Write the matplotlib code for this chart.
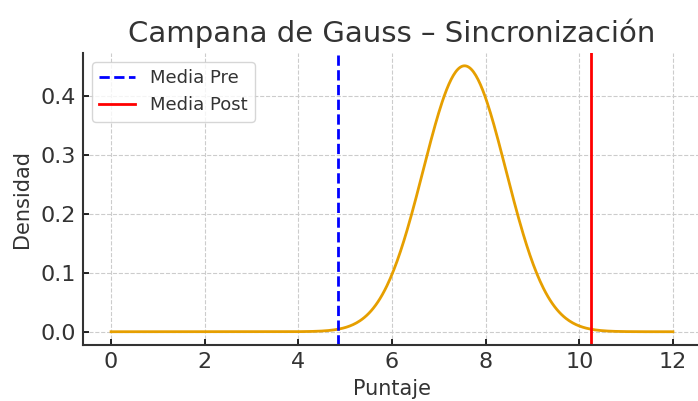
import numpy as np
import matplotlib
matplotlib.use("Agg")
import matplotlib.pyplot as plt

# values
curve_mean = 7.55
curve_sd = 0.885
x_range = [0, 12]
media_pre = 4.84
media_post = 10.26

x = np.linspace(x_range[0], x_range[1], 500)
y = np.exp(-0.5 * ((x - curve_mean) / curve_sd) ** 2) / (curve_sd * np.sqrt(2 * np.pi))

fig = plt.figure(figsize=(6.98, 4.01), dpi=100)
ax = fig.add_axes([83 / 698, 56 / 401, 618 / 698, 292 / 401])

ax.plot(x, y, color="#E69F00", linewidth=2)
ax.axvline(media_pre, color="blue", linestyle="--", linewidth=2, label="Media Pre")
ax.axvline(media_post, color="red", linestyle="-", linewidth=2, label="Media Post")

ax.set_xlim(-0.6, 12.6)
ax.set_ylim(-0.0225, 0.4725)
ax.set_xticks([0, 2, 4, 6, 8, 10, 12])
ax.set_yticks([0.0, 0.1, 0.2, 0.3, 0.4])

ax.set_title("Campana de Gauss – Sincronización", fontsize=21, color="#333333", pad=8)
ax.set_xlabel("Puntaje", fontsize=15, color="#333333", labelpad=5)
ax.set_ylabel("Densidad", fontsize=15, color="#333333", labelpad=6)
ax.tick_params(direction="in", labelsize=16, labelcolor="#333333", length=4, width=1.2, pad=5)

ax.grid(True, linestyle="--", color="#cccccc", linewidth=0.8)
ax.set_axisbelow(True)
for s in ["top", "right"]:
    ax.spines[s].set_visible(False)
for s in ["left", "bottom"]:
    ax.spines[s].set_linewidth(1.5)
    ax.spines[s].set_color("#333333")

ax.legend(loc="upper left", fontsize=13, labelcolor="#333333")

fig.savefig("out.png", dpi=100)
